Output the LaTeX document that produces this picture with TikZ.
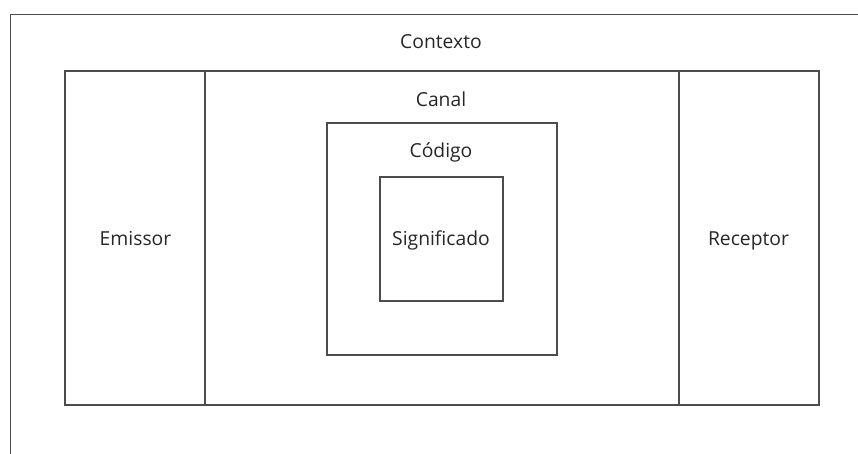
\documentclass[tikz,border=0pt]{standalone}
\usepackage{fontspec}
\setmainfont{Open Sans}
\begin{document}
\begin{tikzpicture}[x=1pt,y=-1pt,
  frame/.style={draw=black!70, line width=1.1pt},
  box/.style={frame, rectangle, inner sep=0pt},
  lbl/.style={font=\fontsize{19.3}{23}\selectfont, text=black!85, inner sep=0pt, anchor=base}]
  \useasboundingbox (0,0) rectangle (858,454);
  % context frame, open to the right and bottom
  \draw[frame] (858,14.5) -- (10.5,14.5) -- (10.5,454);
  \node[lbl] (contexto) at (441,49) {Contexto};
  % emitter, channel and receiver
  \node[box, minimum width=140pt, minimum height=334pt] (emissor) at (135,238) {};
  \node[box, minimum width=474pt, minimum height=334pt] (canal) at (442,238) {};
  \node[box, minimum width=140pt, minimum height=334pt] (receptor) at (749,238) {};
  \node[lbl] (emissortxt) at (135.5,245) {Emissor};
  \node[lbl] (receptortxt) at (748.5,245) {Receptor};
  \node[lbl] (canaltxt) at (441,107) {Canal};
  % code and meaning
  \node[box, minimum width=230pt, minimum height=232pt] (codigo) at (442,239) {};
  \node[lbl] (codigotxt) at (441,158) {Código};
  \node[box, minimum width=123pt, minimum height=124pt] (significado) at (441.5,239) {};
  \node[lbl] (significadotxt) at (441,245.5) {Significado};
\end{tikzpicture}
\end{document}
